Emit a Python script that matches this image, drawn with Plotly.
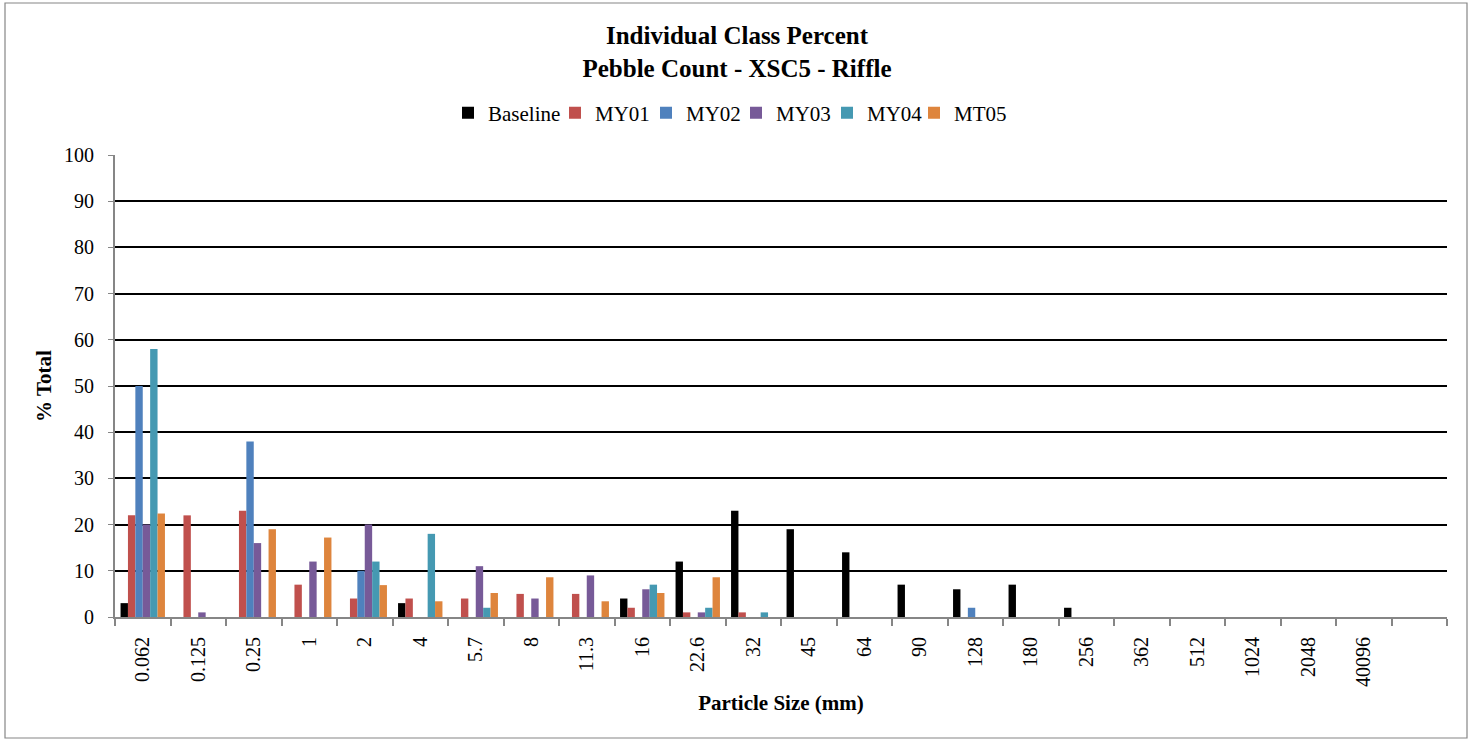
import plotly.graph_objects as go

categories = ["0.062", "0.125", "0.25", "1", "2", "4", "5.7", "8", "11.3", "16",
              "22.6", "32", "45", "64", "90", "128", "180", "256", "362", "512",
              "1024", "2048", "40096", ""]

baseline = [3, 0, 0, 0, 0, 3, 0, 0, 0, 4, 12, 23, 19, 14, 7, 6, 7, 2, 0, 0, 0, 0, 0, 0]
my01 = [22, 22, 23, 7, 4, 4, 4, 5, 5, 2, 1, 1, 0, 0, 0, 0, 0, 0, 0, 0, 0, 0, 0, 0]
my02 = [50, 0, 38, 0, 10, 0, 0, 0, 0, 0, 0, 0, 0, 0, 0, 2, 0, 0, 0, 0, 0, 0, 0, 0]
my03 = [20, 1, 16, 12, 20, 0, 11, 4, 9, 6, 1, 0, 0, 0, 0, 0, 0, 0, 0, 0, 0, 0, 0, 0]
my04 = [58, 0, 0, 0, 12, 18, 2, 0, 0, 7, 2, 1, 0, 0, 0, 0, 0, 0, 0, 0, 0, 0, 0, 0]
mt05 = [22.4, 0, 19.0, 17.2, 6.9, 3.4, 5.2, 8.6, 3.4, 5.2, 8.6, 0, 0, 0, 0, 0, 0, 0, 0, 0, 0, 0, 0, 0]

series_names = ["Baseline", "MY01", "MY02", "MY03", "MY04", "MT05"]
series_values = [baseline, my01, my02, my03, my04, mt05]
colors = ["#000000", "#C0504D", "#4F81BD", "#775A98", "#4599B2", "#DE853D"]
legend_widths = [62, 46, 45, 46, 42, 55]

x_pos = list(range(len(categories)))
FONT = "Times New Roman, Liberation Serif, serif"

fig = go.Figure()
for name, vals, col, lw in zip(series_names, series_values, colors, legend_widths):
    fig.add_trace(go.Bar(x=x_pos, y=vals, name=name, marker_color=col,
                         marker_line_width=0, legendwidth=lw))

W, H = 1473, 741
L, R, T, B = 115, 26, 155, 124
pw, ph = W - L - R, H - T - B

fig.update_layout(
    width=W, height=H,
    margin=dict(l=L, r=R, t=T, b=B, autoexpand=False),
    paper_bgcolor="white", plot_bgcolor="white",
    font=dict(family=FONT, size=20, color="black"),
    barmode="group", bargap=0.2, bargroupgap=0,
    title=dict(text="<b>Individual Class Percent<br>Pebble Count - XSC5 - Riffle</b>",
               x=737 / W, xref="container", xanchor="center",
               y=1 - 44 / H, yanchor="middle",
               font=dict(family=FONT, size=25, color="black")),
    legend=dict(orientation="h", x=(448 - L) / pw, xanchor="left",
                y=(H - B - 113) / ph, yanchor="middle",
                font=dict(family=FONT, size=21), itemwidth=30,
                traceorder="normal"),
    xaxis=dict(range=[-0.5, len(categories) - 0.5], tickmode="array",
               tickvals=x_pos, ticktext=categories, tickangle=-90,
               ticks="", showgrid=False, showline=True, linecolor="#868686",
               linewidth=2, ticklabelstandoff=10,
               minor=dict(tick0=-0.5, dtick=1, ticks="outside", ticklen=7,
                          tickcolor="#868686", tickwidth=1.5, showgrid=False),
               title=dict(text="<b>Particle Size (mm)</b>", standoff=9,
                          font=dict(family=FONT, size=21)),
               tickfont=dict(family=FONT, size=20)),
    yaxis=dict(range=[0, 100], dtick=10, tick0=0, showgrid=True,
               gridcolor="black", gridwidth=1.5, showline=True,
               linecolor="#868686", linewidth=2, ticks="outside", ticklen=5,
               tickcolor="#868686", zeroline=False, ticklabelstandoff=10,
               title=dict(text="<b>% Total</b>", standoff=7,
                          font=dict(family=FONT, size=21)),
               tickfont=dict(family=FONT, size=20)),
)

# outer chart border
fig.add_shape(type="rect", xref="paper", yref="paper",
              x0=(5 - L) / pw, x1=(1467 - L) / pw,
              y0=(H - B - 738) / ph, y1=(H - B - 3) / ph,
              line=dict(color="#868686", width=1.2), fillcolor="rgba(0,0,0,0)",
              layer="below")

fig.write_html("out.html", config={"displayModeBar": False},
               post_script="document.body.style.margin='0';")
